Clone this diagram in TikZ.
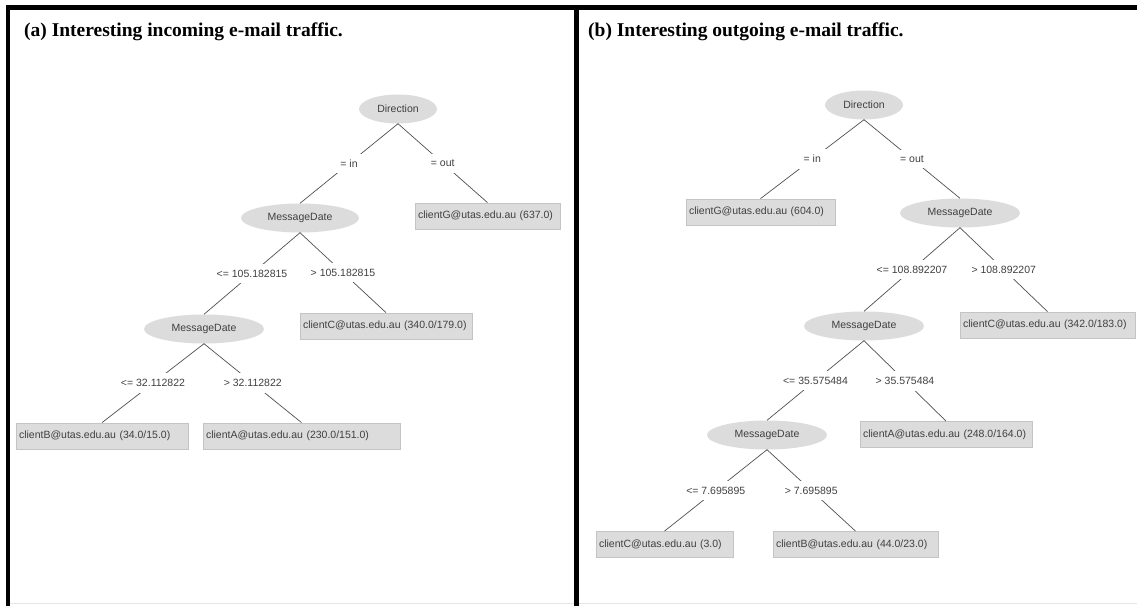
\documentclass[tikz,border=0pt]{standalone}
\usepackage{fontspec}
\setmainfont{Liberation Serif}
\newfontfamily\guifont{Liberation Sans}
\usetikzlibrary{shapes.geometric}
\definecolor{nodegray}{HTML}{DCDCDC}
\definecolor{boxedge}{HTML}{C4C4C4}
\definecolor{txtgray}{HTML}{404040}
\definecolor{linegray}{HTML}{505050}
\begin{document}
\begin{tikzpicture}[x=1pt,y=-1pt,
  guitext/.style={font=\guifont\fontsize{10.5}{12}\selectfont, text=txtgray},
  inner/.style={guitext, ellipse, fill=nodegray, minimum height=29pt, inner sep=0pt},
  leaf/.style={guitext, rectangle, fill=nodegray, draw=boxedge, line width=0.8pt,
    minimum height=26pt, inner xsep=3pt, inner ysep=0pt, align=left, text width=#1},
  edge/.style={draw=linegray, line width=0.7pt},
  lbl/.style={guitext, fill=white, inner xsep=5pt, inner ysep=6pt},
  title/.style={font=\fontsize{19.5}{22}\selectfont\bfseries, anchor=base west, inner sep=0pt}
]
\useasboundingbox (0,0) rectangle (1137,606);
\fill[white] (0,0) rectangle (1137,606);
% frame
\fill[black] (6,5) rectangle (1137,10);
\fill[black] (6,5) rectangle (10,606);
\fill[black] (574,5) rectangle (579,606);
\draw[black!10, line width=0.8pt] (10,603.5) -- (574,603.5);
\draw[black!10, line width=0.8pt] (579,603.5) -- (1137,603.5);

% titles
\node[title] (ta) at (24,36) {(a) Interesting incoming e-mail traffic.};
\node[title] (tb) at (588,36) {(b) Interesting outgoing e-mail traffic.};

% ---------- tree (a) ----------
\node[inner, minimum width=78pt] (dirA) at (398,109) {Direction};
\node[inner, minimum width=118pt] (mdA1) at (300,218) {MessageDate};
\node[leaf=139pt] (gA) at (487.5,216) {clientG@utas.edu.au (637.0)};
\node[inner, minimum width=120pt] (mdA2) at (204,329) {MessageDate};
\node[leaf=166pt] (cA) at (386,326) {clientC@utas.edu.au (340.0/179.0)};
\node[leaf=166pt] (bA) at (102,436) {clientB@utas.edu.au (34.0/15.0)};
\node[leaf=191pt] (aA) at (301.5,436) {clientA@utas.edu.au (230.0/151.0)};

\draw[edge] (dirA.south) -- node[lbl] {= in} (mdA1.north);
\draw[edge] (dirA.south) -- node[lbl] {= out} (gA.north);
\draw[edge] (mdA1.south) -- node[lbl] {<= 105.182815} (mdA2.north);
\draw[edge] (mdA1.south) -- node[lbl] {> 105.182815} (cA.north);
\draw[edge] (mdA2.south) -- node[lbl] {<= 32.112822} (bA.north);
\draw[edge] (mdA2.south) -- node[lbl] {> 32.112822} (aA.north);

% ---------- tree (b) ----------
\node[inner, minimum width=78pt] (dirB) at (864,105) {Direction};
\node[leaf=143pt] (gB) at (760.5,212) {clientG@utas.edu.au (604.0)};
\node[inner, minimum width=120pt] (mdB1) at (960,213) {MessageDate};
\node[inner, minimum width=120pt] (mdB2) at (864,326) {MessageDate};
\node[leaf=169pt] (cB) at (1047.5,325) {clientC@utas.edu.au (342.0/183.0)};
\node[inner, minimum width=120pt] (mdB3) at (767,435) {MessageDate};
\node[leaf=166pt] (aB) at (946,434.5) {clientA@utas.edu.au (248.0/164.0)};
\node[leaf=131pt] (cB2) at (664.5,544.5) {clientC@utas.edu.au (3.0)};
\node[leaf=159pt] (bB) at (855.5,544.5) {clientB@utas.edu.au (44.0/23.0)};

\draw[edge] (dirB.south) -- node[lbl] {= in} (gB.north);
\draw[edge] (dirB.south) -- node[lbl] {= out} (mdB1.north);
\draw[edge] (mdB1.south) -- node[lbl] {<= 108.892207} (mdB2.north);
\draw[edge] (mdB1.south) -- node[lbl] {> 108.892207} (cB.north);
\draw[edge] (mdB2.south) -- node[lbl] {<= 35.575484} (mdB3.north);
\draw[edge] (mdB2.south) -- node[lbl] {> 35.575484} (aB.north);
\draw[edge] (mdB3.south) -- node[lbl] {<= 7.695895} (cB2.north);
\draw[edge] (mdB3.south) -- node[lbl] {> 7.695895} (bB.north);
\end{tikzpicture}
\end{document}
